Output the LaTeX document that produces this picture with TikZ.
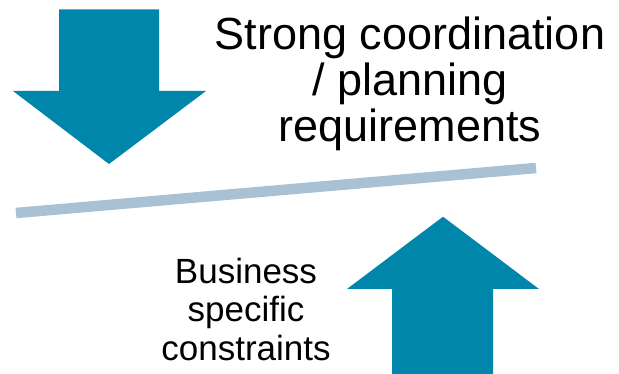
\documentclass[tikz,border=0pt]{standalone}
\usepackage{fontspec}
\setmainfont{Liberation Sans}
\definecolor{arrowblue}{HTML}{0086AB}
\definecolor{beamgrey}{HTML}{A9C1D4}
\begin{document}
\begin{tikzpicture}[x=1pt,y=-1pt,
  bigarrow/.style={fill=arrowblue,draw=none},
  beam/.style={draw=beamgrey,line width=10.5pt,line cap=butt},
  bigtext/.style={align=center,inner sep=0pt,font=\fontsize{45}{46}\selectfont},
  smalltext/.style={align=center,inner sep=0pt,font=\fontsize{35}{38.5}\selectfont}]
\useasboundingbox (0,0) rectangle (619,374);
% downward pressure
\fill[bigarrow] (59,9.5) -- (159,9.5) -- (159,91) -- (206,91) -- (109,164)
  -- (13,91) -- (59,91) -- cycle;
% upward pressure
\fill[bigarrow] (392,374) -- (493,374) -- (493,289) -- (539,289) -- (443,216.7)
  -- (347,289) -- (392,289) -- cycle;
% tilted balance beam
\coordinate (bl) at (16,213);
\coordinate (br) at (536,168);
\draw[beam] (bl) -- (br);
% labels (anchored at the baseline of their last line)
\node[bigtext,anchor=base] (top) at (410,142)
  {Strong coordination\\/ planning\\requirements};
\node[smalltext,anchor=base] (bottom) at (246,360)
  {Business\\specific\\constraints};
\end{tikzpicture}
\end{document}
